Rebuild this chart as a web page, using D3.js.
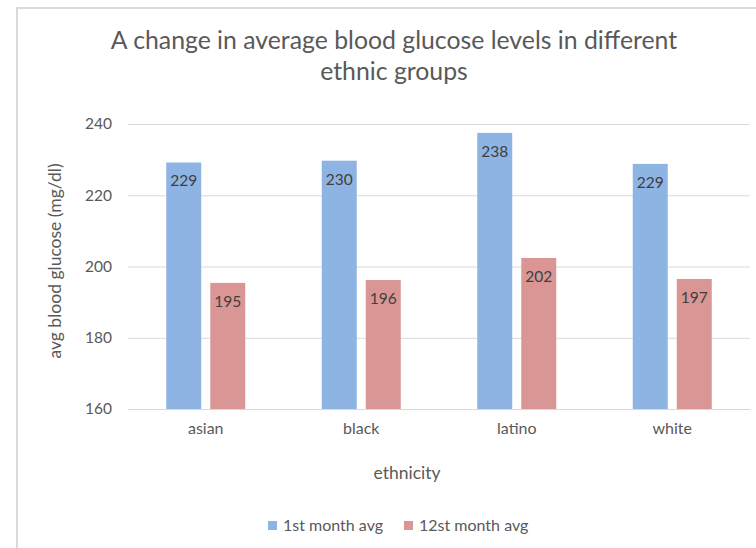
<!DOCTYPE html>
<html><head><meta charset="utf-8">
<script src="https://cdn.jsdelivr.net/npm/d3@7"></script>
<style>body{margin:0;background:#fff}svg{display:block}text{font-family:Lato,"Open Sans",sans-serif}</style>
</head><body>
<svg id="c" width="756" height="548"></svg>
<script>
const categories = ["asian","black","latino","white"];
const seriesNames = ["1st month avg","12st month avg"];
const firstMonth = [229.2, 229.7, 237.5, 228.8];
const twelfthMonth = [195.4, 196.2, 202.4, 196.5];
const yTicks = [160,180,200,220,240];

const svg = d3.select("#c");
const colors = ["#8EB4E3","#D99694"];
svg.append("rect").attr("x",17).attr("y",8).attr("width",760).attr("height",560)
  .attr("fill","#fff").attr("stroke","#DADADA").attr("stroke-width",2);

const L=128,R=750,T=124,B=409;
const x = d3.scaleBand().domain(categories).range([L,R]);
const x1 = d3.scaleBand().domain(seriesNames).range([0,79]).paddingInner(0.205);
const y = d3.scaleLinear().domain([160,240]).range([B,T]);

svg.append("g").selectAll("line").data(yTicks).join("line")
  .attr("x1",L).attr("x2",R).attr("y1",d=>y(d)+0.5).attr("y2",d=>y(d)+0.5)
  .attr("stroke","#D9D9D9").attr("stroke-width",1);

const yAxis = d3.axisLeft(y).tickValues(yTicks).tickSize(0).tickPadding(16);
const ga = svg.append("g").attr("transform",`translate(${L},0)`).call(yAxis);
ga.select(".domain").remove();
ga.selectAll("text").attr("fill","#595959").attr("font-size",15.5).attr("font-family","Lato,sans-serif");

const series = [firstMonth, twelfthMonth];
const groups = svg.append("g").selectAll("g").data(categories).join("g")
  .attr("transform",d=>`translate(${x(d)+x.bandwidth()/2-39.5},0)`);
groups.each(function(cat,i){
  const g = d3.select(this);
  seriesNames.forEach((s,j)=>{
    const v = series[j][i];
    g.append("rect").attr("x",x1(s)).attr("width",x1.bandwidth())
      .attr("y",y(v)).attr("height",y(160)-y(v)).attr("fill",colors[j]);
    g.append("text").attr("x",x1(s)+x1.bandwidth()/2).attr("y",y(v)+24)
      .attr("text-anchor","middle").attr("font-size",15.5).attr("fill","#404040")
      .text(Math.round(v));
  });
});

const xAxis = d3.axisBottom(x).tickSize(0).tickPadding(14);
const gx = svg.append("g").attr("transform",`translate(0,${B})`).call(xAxis);
gx.select(".domain").attr("stroke","#D9D9D9");
gx.selectAll("text").attr("fill","#595959").attr("font-size",16).attr("font-family","Lato,sans-serif");

svg.append("text").attr("x",407).attr("y",479).attr("text-anchor","middle")
  .attr("font-size",17.5).attr("fill","#595959").text("ethnicity");
svg.append("text").attr("transform","translate(61,261) rotate(-90)").attr("text-anchor","middle")
  .attr("font-size",17.5).attr("fill","#595959").text("avg blood glucose (mg/dl)");

const title = svg.append("text").attr("text-anchor","middle").attr("font-size",24.8).attr("fill","#595959");
title.append("tspan").attr("x",394).attr("y",49).text("A change in average blood glucose levels in different");
title.append("tspan").attr("x",394).attr("y",80).text("ethnic groups");

const lg = svg.append("g");
const lx = [268, 404];
seriesNames.forEach((s,j)=>{
  lg.append("rect").attr("x",lx[j]).attr("y",521).attr("width",9).attr("height",9).attr("fill",colors[j]);
  lg.append("text").attr("x",lx[j]+15).attr("y",531).attr("font-size",16).attr("fill","#595959").text(s);
});
</script>
</body></html>
